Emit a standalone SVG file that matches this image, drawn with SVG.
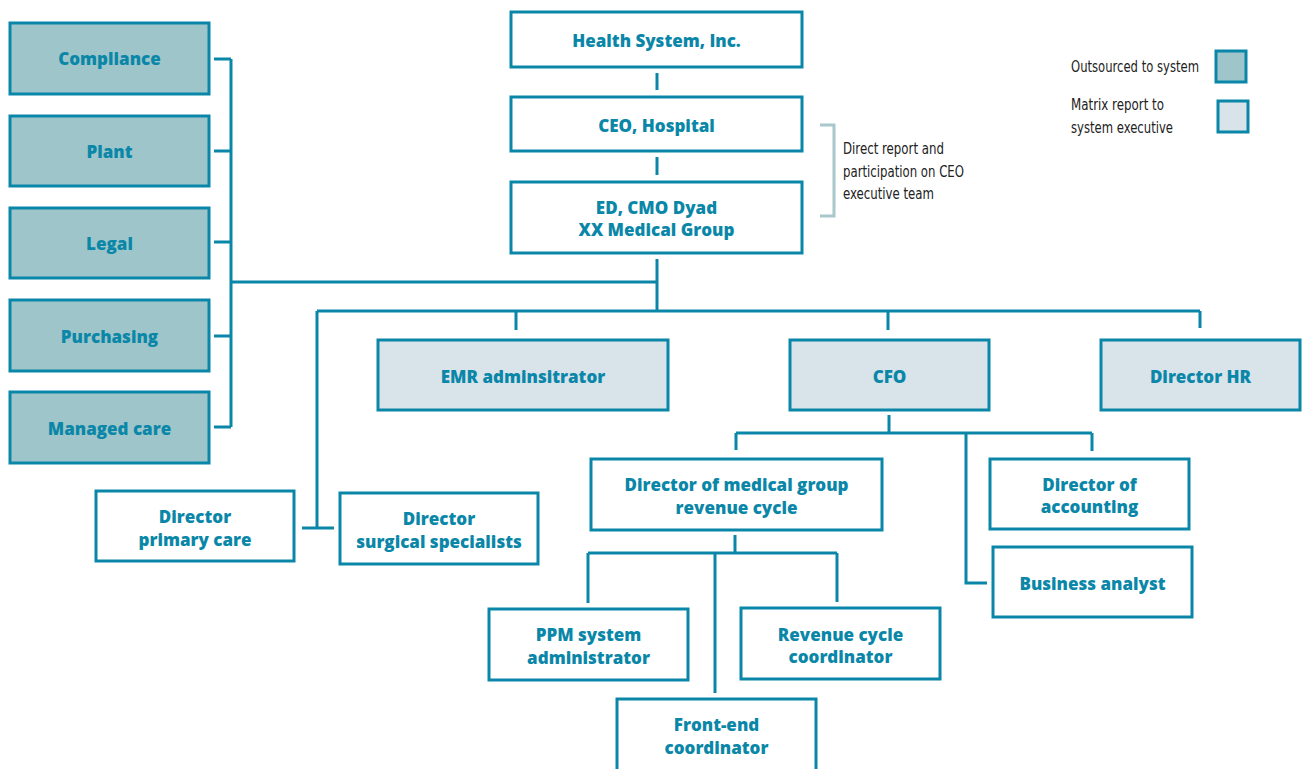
<svg xmlns="http://www.w3.org/2000/svg" width="1304" height="769" viewBox="0 0 1304 769">
<style>
.b{fill:#fff;stroke:#0a87a8;stroke-width:3}
.d{fill:#9ec5c9;stroke:#0a87a8;stroke-width:3}
.l{fill:#d8e3ea;stroke:#0a87a8;stroke-width:3}
.t{font-family:"Open Sans","Liberation Sans",sans-serif;font-weight:800;font-size:17px;fill:#0a87a8;text-anchor:middle}
.n{font-family:"Liberation Sans Narrow","DejaVu Sans Condensed","Liberation Sans",sans-serif;font-size:15px;fill:#222}
.c{fill:none;stroke:#0a87a8;stroke-width:3}
.br{fill:none;stroke:#a8c8cc;stroke-width:3}
</style>
<rect width="1304" height="769" fill="#fff"/>
<g id="connectors">
<path class="c" d="M214 59H231M214 151H231M214 242H231M214 336H231M214 427H231M231 59V427M231 282H657"/>
<path class="c" d="M657 73V90M657 157V175M657 259V311M317 311H1200M516 311V330M888 311V330M1200 311V328M317 311V528M302 528H334"/>
<path class="c" d="M889 415V433M736 433H1092M736 433V450M1092 433V451M966 433V583H987"/>
<path class="c" d="M735 535V553M588 553H837M588 553V603M837 553V602M715 553V693"/>
<path class="br" d="M820 125H834V216H820"/>
</g>
<g id="compliance"><rect class="d" x="10" y="23" width="199" height="71"/><text class="t" x="109.5" y="65">Compliance</text></g>
<g id="plant"><rect class="d" x="10" y="116" width="199" height="70"/><text class="t" x="109.5" y="158">Plant</text></g>
<g id="legal"><rect class="d" x="10" y="208" width="199" height="70"/><text class="t" x="109.5" y="250">Legal</text></g>
<g id="purchasing"><rect class="d" x="10" y="300" width="199" height="71"/><text class="t" x="109.5" y="343">Purchasing</text></g>
<g id="managed-care"><rect class="d" x="10" y="392" width="199" height="71"/><text class="t" x="109.5" y="435">Managed care</text></g>
<g id="health-system"><rect class="b" x="511" y="12" width="291" height="55"/><text class="t" x="656.5" y="47">Health System, Inc.</text></g>
<g id="ceo"><rect class="b" x="511" y="97" width="291" height="54"/><text class="t" x="656.5" y="132">CEO, Hospital</text></g>
<g id="ed-cmo"><rect class="b" x="511" y="182" width="291" height="71"/><text class="t" x="656.5" y="214">ED, CMO Dyad</text><text class="t" x="656.5" y="236">XX Medical Group</text></g>
<g id="note"><text class="n" x="843" y="154" textLength="101" lengthAdjust="spacingAndGlyphs">Direct report and</text><text class="n" x="843" y="177" textLength="121" lengthAdjust="spacingAndGlyphs">participation on CEO</text><text class="n" x="843" y="199" textLength="91" lengthAdjust="spacingAndGlyphs">executive team</text></g>
<g id="legend-outsourced"><text class="n" x="1071" y="72" textLength="128" lengthAdjust="spacingAndGlyphs">Outsourced to system</text><rect class="d" x="1216" y="51" width="30" height="31"/></g>
<g id="legend-matrix"><text class="n" x="1071" y="110" textLength="93" lengthAdjust="spacingAndGlyphs">Matrix report to</text><text class="n" x="1071" y="133" textLength="102" lengthAdjust="spacingAndGlyphs">system executive</text><rect class="l" x="1218" y="101" width="30" height="31"/></g>
<g id="emr"><rect class="l" x="378" y="340" width="290" height="70"/><text class="t" x="523" y="383">EMR adminsitrator</text></g>
<g id="cfo"><rect class="l" x="790" y="340" width="199" height="70"/><text class="t" x="889.5" y="383">CFO</text></g>
<g id="director-hr"><rect class="l" x="1101" y="340" width="199" height="70"/><text class="t" x="1200.5" y="383">Director HR</text></g>
<g id="director-primary"><rect class="b" x="96" y="491" width="198" height="70"/><text class="t" x="195" y="523">Director</text><text class="t" x="195" y="546">primary care</text></g>
<g id="director-surgical"><rect class="b" x="340" y="493" width="198" height="71"/><text class="t" x="439" y="525">Director</text><text class="t" x="439" y="548">surgical specialists</text></g>
<g id="director-revenue"><rect class="b" x="591" y="459" width="291" height="71"/><text class="t" x="736.5" y="491">Director of medical group</text><text class="t" x="736.5" y="514">revenue cycle</text></g>
<g id="director-accounting"><rect class="b" x="990" y="459" width="199" height="70"/><text class="t" x="1089.5" y="491">Director of</text><text class="t" x="1089.5" y="513">accounting</text></g>
<g id="business-analyst"><rect class="b" x="993" y="547" width="199" height="70"/><text class="t" x="1092.5" y="590">Business analyst</text></g>
<g id="ppm"><rect class="b" x="489" y="609" width="199" height="71"/><text class="t" x="588.5" y="641">PPM system</text><text class="t" x="588.5" y="664">administrator</text></g>
<g id="revenue-coordinator"><rect class="b" x="741" y="608" width="199" height="71"/><text class="t" x="840.5" y="641">Revenue cycle</text><text class="t" x="840.5" y="663">coordinator</text></g>
<g id="front-end"><rect class="b" x="617" y="699" width="199" height="80"/><text class="t" x="716.5" y="731">Front-end</text><text class="t" x="716.5" y="754">coordinator</text></g>
</svg>
